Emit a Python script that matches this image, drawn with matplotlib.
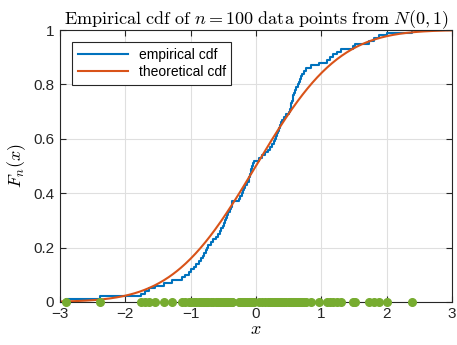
import math
import matplotlib
matplotlib.use("Agg")
import matplotlib.pyplot as plt
import numpy as np

plt.rcParams['font.family'] = ['Liberation Sans', 'DejaVu Sans']
plt.rcParams['mathtext.fontset'] = 'cm'

# sorted sample values (n = 100)
data = [-2.91, -2.39,
        -1.76, -1.70, -1.63, -1.55, -1.41, -1.29,
        -1.13, -1.08, -1.03, -0.99, -0.95, -0.91, -0.87, -0.84,
        -0.81, -0.79, -0.77, -0.75, -0.73, -0.69, -0.65, -0.61, -0.58,
        -0.55, -0.53, -0.51, -0.49, -0.47, -0.46, -0.45,
        -0.42, -0.40, -0.38, -0.37, -0.36,
        -0.26, -0.24, -0.22, -0.20, -0.18, -0.16, -0.13, -0.11,
        -0.10, -0.09, -0.08, -0.07, -0.06, -0.05, -0.03,
        0.04, 0.10, 0.14, 0.18, 0.21, 0.24,
        0.27, 0.29, 0.30, 0.32, 0.34, 0.35, 0.37, 0.38, 0.40,
        0.43, 0.46, 0.50, 0.52, 0.53, 0.54, 0.55, 0.56, 0.57, 0.58,
        0.60, 0.62, 0.64, 0.66, 0.67, 0.69, 0.71, 0.74, 0.77, 0.84,
        0.96, 1.09, 1.13, 1.18, 1.24, 1.30, 1.48, 1.51,
        1.73, 1.80, 1.88, 2.01, 2.39]
xticks = [-3, -2, -1, 0, 1, 2, 3]
yticks = [0, 0.2, 0.4, 0.6, 0.8, 1]
ytick_labels = ['0', '0.2', '0.4', '0.6', '0.8', '1']

x = np.sort(np.array(data))
n = len(x)
f = np.arange(1, n + 1) / n
# stairs like matlab's ecdf output: start at (min, 0)
sx = np.concatenate([[x[0]], x])
sf = np.concatenate([[0.0], f])

t = np.linspace(-3, 3, 400)
phi = np.array([0.5 * (1 + math.erf(v / math.sqrt(2))) for v in t])

fig = plt.figure(figsize=(4.57, 3.45), dpi=100)
ax = fig.add_axes([0.131, 0.125, 0.858, 0.788])

ax.step(sx, sf, where='post', color='#0072BD', lw=1.5, label='empirical cdf')
ax.plot(t, phi, color='#D95319', lw=1.5, label='theoretical cdf')
ax.plot(x, np.zeros(n), 'o', color='#77AC30', ms=5.5, clip_on=False, zorder=5)

ax.set_xlim(-3, 3)
ax.set_ylim(0, 1)
ax.set_xticks(xticks)
ax.set_yticks(yticks)
ax.set_yticklabels(ytick_labels)
ax.tick_params(direction='in', top=True, right=True, labelsize=11,
               length=4, colors='#262626', pad=4)
ax.grid(True, color='#dfdfdf', lw=0.8)
ax.set_axisbelow(True)
for s in ax.spines.values():
    s.set_color('#262626')
    s.set_linewidth(0.8)

ax.set_title(r'$\mathrm{Empirical\ cdf\ of\ }n=100\mathrm{\ data\ points\ from\ }N(0,1)$',
             fontsize=13, pad=4)
ax.set_xlabel(r'$x$', fontsize=13, labelpad=0)
ax.set_ylabel(r'$F_n(x)$', fontsize=13, labelpad=4)

leg = ax.legend(loc='upper left', bbox_to_anchor=(0.031, 0.956), fontsize=10,
                fancybox=False, framealpha=1, edgecolor='#262626',
                borderaxespad=0, borderpad=0.4, handlelength=3.6,
                labelspacing=0.25)
leg.get_frame().set_linewidth(0.8)

fig.savefig('out.png', dpi=100)
